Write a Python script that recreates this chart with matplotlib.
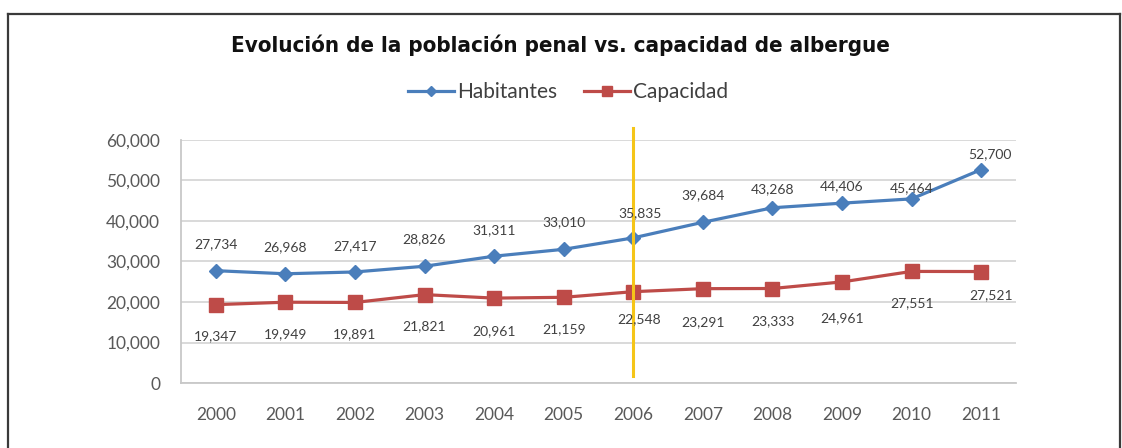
import matplotlib
matplotlib.use("Agg")
import matplotlib.pyplot as plt
from matplotlib.lines import Line2D
from matplotlib.ticker import FuncFormatter
from matplotlib import font_manager

# data
years = ["2000", "2001", "2002", "2003", "2004", "2005",
         "2006", "2007", "2008", "2009", "2010", "2011"]
habitantes = [27734, 26968, 27417, 28826, 31311, 33010,
              35835, 39684, 43268, 44406, 45464, 52700]
capacidad = [19347, 19949, 19891, 21821, 20961, 21159,
             22548, 23291, 23333, 24961, 27551, 27521]
highlight_year = "2006"
title = "Evolución de la población penal vs. capacidad de albergue"

# label offsets in pixels (dx, dy) as placed in the source chart
hab_off = [(0, 27), (0, 27), (0, 26), (0, 27), (0, 26), (0, 27),
           (7, 25), (0, 27), (0, 19), (0, 17), (0, 11), (9, 15)]
cap_off = [(0, -32), (0, -32), (0, -32), (0, -32), (0, -33), (0, -32),
           (6, -27), (0, -33), (0, -33), (0, -36), (0, -32), (10, -24)]

blue = "#4A7EBB"
red = "#BE4B48"
txt = "#404040"

plt.rcParams['font.family'] = ['Lato', 'DejaVu Sans']

# narrow bold font for the title, if one is installed
narrow = sorted(f.fname for f in font_manager.fontManager.ttflist
                if f.weight in (700, "bold") and ("Condensed" in f.fname or "Narrow" in f.fname))

fig = plt.figure(figsize=(11.22, 4.48), dpi=100)
ax = fig.add_axes([181/1122, 1-383/448, (1016-181)/1122, (383-140)/448])

x = range(len(years))
ax.plot(x, habitantes, color=blue, lw=2.3, marker="D", ms=7, label="Habitantes", zorder=3)
ax.plot(x, capacidad, color=red, lw=2.3, marker="s", ms=10, label="Capacidad", zorder=3)

ax.axvline(years.index(highlight_year), ymin=0.03, ymax=1.05, color="#F5C518",
           lw=2.2, clip_on=False, zorder=4)

for i in x:
    dx, dy = hab_off[i]
    ax.annotate(f"{habitantes[i]:,}", (i, habitantes[i]), xytext=(dx*0.72, dy*0.72),
                textcoords="offset points", ha="center", va="center",
                fontsize=10, color=txt, zorder=5)
    dx, dy = cap_off[i]
    ax.annotate(f"{capacidad[i]:,}", (i, capacidad[i]), xytext=(dx*0.72, dy*0.72),
                textcoords="offset points", ha="center", va="center",
                fontsize=10, color=txt, zorder=5)

ax.set_xlim(-0.5, len(years)-0.5)
ax.set_ylim(0, 60000)
ax.set_yticks(range(0, 60001, 10000))
ax.yaxis.set_major_formatter(FuncFormatter(lambda v, p: f"{int(v):,}"))
ax.set_xticks(list(x))
ax.set_xticklabels(years)
ax.tick_params(length=0, labelsize=12.5, labelcolor="#595959")
ax.tick_params(axis="y", pad=15)
ax.tick_params(axis="x", pad=17)
ax.grid(axis="y", color="#D0D0D0", lw=1.1)
ax.set_axisbelow(True)
for s in ["top", "right"]:
    ax.spines[s].set_visible(False)
for s in ["left", "bottom"]:
    ax.spines[s].set_color("#C8C8C8")
    ax.spines[s].set_linewidth(1.3)

if narrow:
    tfont = dict(fontproperties=font_manager.FontProperties(fname=narrow[0], size=16))
else:
    tfont = dict(fontsize=15, fontweight="bold", family=["DejaVu Sans"])
fig.text(560/1122, 1-45/448, title, ha="center", va="center", color="#111111", **tfont)

fig.legend(loc="center", bbox_to_anchor=(568/1122, 1-92/448), ncol=2, frameon=False,
           fontsize=15, handlelength=2.2, columnspacing=1.3, handletextpad=0.15,
           labelcolor="#404040", markerscale=0.7)

# outer frame
fr = dict(color="#3A3A3A", lw=1.6, transform=fig.transFigure)
fig.add_artist(Line2D([8/1122, 8/1122], [0, 1-14/448], **fr))
fig.add_artist(Line2D([8/1122, 1120/1122], [1-14/448, 1-14/448], **fr))
fig.add_artist(Line2D([1120/1122, 1120/1122], [0, 1-14/448], **fr))

fig.savefig("out.png", dpi=100)
